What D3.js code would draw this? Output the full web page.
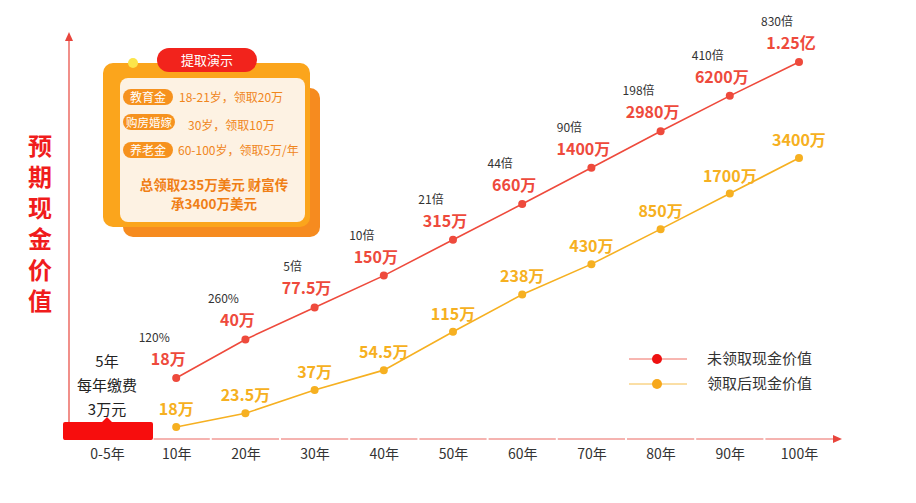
<!DOCTYPE html>
<html><head><meta charset="utf-8">
<script src="https://cdn.jsdelivr.net/npm/d3@7/dist/d3.min.js"></script>
<style>
html,body{margin:0;padding:0;background:#fff;}
svg{display:block;font-family:"Noto Sans CJK SC","Noto Sans",sans-serif;}
</style></head>
<body>
<svg id="chart" width="916" height="503"></svg>
<script>
// ---- data ----
const categories = ["0-5年","10年","20年","30年","40年","50年","60年","70年","80年","90年","100年"];
const years = ["10年","20年","30年","40年","50年","60年","70年","80年","90年","100年"];
const unclaimedValues = [18, 40, 77.5, 150, 315, 660, 1400, 2980, 6200, 12500];
const unclaimedLabels = ["18万","40万","77.5万","150万","315万","660万","1400万","2980万","6200万","1.25亿"];
const multipleLabels = ["120%","260%","5倍","10倍","21倍","44倍","90倍","198倍","410倍","830倍"];
const claimedValues = [18, 23.5, 37, 54.5, 115, 238, 430, 850, 1700, 3400];
const claimedLabels = ["18万","23.5万","37万","54.5万","115万","238万","430万","850万","1700万","3400万"];
const seriesNames = ["未领取现金价值","领取后现金价值"];
const yTitle = "预期现金价值";
const payNote = ["5年","每年缴费","3万元"];
const boxTitle = "提取演示";
const boxRows = [
  {tag:"教育金", text:"18-21岁，领取20万"},
  {tag:"购房婚嫁", text:"30岁，领取10万"},
  {tag:"养老金", text:"60-100岁，领取5万/年"}
];
const boxSummary = ["总领取235万美元 财富传","承3400万美元"];

// ---- setup ----
const svg = d3.select("#chart");
const RED = "#ee4a3c", GOLD = "#f6b021", AXIS = "#e8453c";
const axisY = 439, axisX = 69;

const x = d3.scalePoint().domain(categories).range([107, 799]);
const yRed = d3.scaleLog().domain([18, 12500]).range([378, 62]);
const yGold = d3.scaleLog().domain([18, 3400]).range([427, 158]);

// ---- axes ----
svg.append("line").attr("x1", axisX).attr("x2", axisX).attr("y1", axisY + 1).attr("y2", 38)
  .attr("stroke", AXIS).attr("stroke-width", 1.2);
svg.append("path").attr("d", `M${axisX},32 L${axisX-4},41 L${axisX+4},41 Z`).attr("fill", AXIS);

const xs = categories.map(c => x(c));
const bounds = [63];
for (let i = 0; i < xs.length - 1; i++) bounds.push((xs[i] + xs[i+1]) / 2 + (i === 0 ? 11 : 0));
bounds.push(834);
for (let i = 0; i < bounds.length - 1; i++) {
  svg.append("line").attr("x1", bounds[i] + 1).attr("x2", bounds[i+1] - 1)
    .attr("y1", axisY).attr("y2", axisY).attr("stroke", AXIS).attr("stroke-width", 1.2).attr("opacity", 0.8);
}
svg.append("path").attr("d", `M842,${axisY} L833,${axisY-4} L833,${axisY+4} Z`).attr("fill", AXIS);

const xAxis = svg.append("g").attr("transform", `translate(0,${axisY})`)
  .call(d3.axisBottom(x).tickSize(0).tickPadding(10));
xAxis.select(".domain").remove();
xAxis.selectAll("text").attr("font-size", 14).attr("fill", "#333")
  .attr("font-family", "\"Noto Sans CJK SC\",sans-serif");

// y title (vertical, single text)
svg.append("text")
  .attr("x", 40).attr("y", 134)
  .style("writing-mode", "vertical-rl")
  .attr("letter-spacing", 7)
  .attr("font-size", 24).attr("font-weight", "bold")
  .attr("fill", "#f01c1c").text(yTitle);

// 0-5年 red marker box with notch
const bx = x("0-5年");
svg.append("path")
  .attr("d", `M${bx-44},${axisY-15} Q${bx-44},${axisY-17} ${bx-42},${axisY-17} L${bx-5},${axisY-17} L${bx},${axisY-22} L${bx+5},${axisY-17} L${bx+44},${axisY-17} Q${bx+46},${axisY-17} ${bx+46},${axisY-15} L${bx+46},${axisY-1} Q${bx+46},${axisY+1} ${bx+44},${axisY+1} L${bx-42},${axisY+1} Q${bx-44},${axisY+1} ${bx-44},${axisY-1} Z`)
  .attr("fill", "#f70d0d");
svg.append("g").selectAll("text").data(payNote).join("text")
  .attr("x", bx).attr("y", (d, i) => 367 + i * 24)
  .attr("text-anchor", "middle").attr("font-size", 15).attr("fill", "#222").text(d => d);

// ---- series ----
const redData = years.map((c, i) => ({c, v: unclaimedValues[i], label: unclaimedLabels[i], mult: multipleLabels[i]}));
const goldData = years.map((c, i) => ({c, v: claimedValues[i], label: claimedLabels[i]}));

const lineRed = d3.line().x(d => x(d.c)).y(d => yRed(d.v));
const lineGold = d3.line().x(d => x(d.c)).y(d => yGold(d.v));

svg.append("path").datum(goldData).attr("d", lineGold).attr("fill", "none")
  .attr("stroke", GOLD).attr("stroke-width", 1.6);
svg.append("path").datum(redData).attr("d", lineRed).attr("fill", "none")
  .attr("stroke", RED).attr("stroke-width", 1.6);

svg.append("g").selectAll("circle").data(goldData).join("circle")
  .attr("cx", d => x(d.c)).attr("cy", d => yGold(d.v)).attr("r", 4).attr("fill", GOLD);
svg.append("g").selectAll("circle").data(redData).join("circle")
  .attr("cx", d => x(d.c)).attr("cy", d => yRed(d.v)).attr("r", 4).attr("fill", RED);

svg.append("g").selectAll("text").data(redData).join("text")
  .attr("x", d => x(d.c) - 8).attr("y", d => yRed(d.v) - 13)
  .attr("text-anchor", "middle").attr("font-size", 16).attr("font-weight", "bold")
  .attr("fill", RED).text(d => d.label);
svg.append("g").selectAll("text").data(redData).join("text")
  .attr("x", d => x(d.c) - 22).attr("y", d => yRed(d.v) - 36)
  .attr("text-anchor", "middle").attr("font-size", 12)
  .attr("fill", "#333").text(d => d.mult);
svg.append("g").selectAll("text").data(goldData).join("text")
  .attr("x", d => x(d.c)).attr("y", d => yGold(d.v) - 12)
  .attr("text-anchor", "middle").attr("font-size", 16).attr("font-weight", "bold")
  .attr("fill", GOLD).text(d => d.label);

// ---- legend ----
const legend = svg.append("g");
[[RED, "#ee1111"], [GOLD, "#f7a81b"]].forEach((cols, i) => {
  const ly = 359 + i * 25;
  legend.append("line").attr("x1", 629).attr("x2", 687).attr("y1", ly).attr("y2", ly)
    .attr("stroke", cols[0]).attr("stroke-width", 1).attr("opacity", 0.8);
  legend.append("circle").attr("cx", 657).attr("cy", ly).attr("r", 5).attr("fill", cols[1]);
  legend.append("text").attr("x", 707).attr("y", ly + 5).attr("font-size", 15)
    .attr("fill", "#333").text(seriesNames[i]);
});

// ---- info box ----
const box = svg.append("g");
box.append("rect").attr("x", 123).attr("y", 88).attr("width", 197).attr("height", 149).attr("rx", 10)
  .attr("fill", "#f68b1f");
box.append("rect").attr("x", 103).attr("y", 63).attr("width", 207).attr("height", 164).attr("rx", 10)
  .attr("fill", "#fba51c");
box.append("rect").attr("x", 120).attr("y", 78).attr("width", 185).attr("height", 144).attr("rx", 8)
  .attr("fill", "#fdf2e3");
box.append("circle").attr("cx", 133).attr("cy", 63).attr("r", 5).attr("fill", "#fce54a");
box.append("rect").attr("x", 157).attr("y", 48).attr("width", 100).attr("height", 24).attr("rx", 12)
  .attr("fill", "#f2231c");
box.append("text").attr("x", 207).attr("y", 65).attr("text-anchor", "middle")
  .attr("font-size", 13).attr("fill", "#fff").text(boxTitle);

const rowY = [97, 122, 150];
const rowTextX = [179, 188, 178];
boxRows.forEach((r, i) => {
  const w = r.tag.length === 4 ? 52 : 50;
  box.append("rect").attr("x", 123).attr("y", rowY[i] - 8).attr("width", w).attr("height", 16).attr("rx", 8)
    .attr("fill", "#f6921e");
  box.append("text").attr("x", 123 + w / 2).attr("y", rowY[i] + 4.5).attr("text-anchor", "middle")
    .attr("font-size", r.tag.length === 4 ? 11.5 : 12).attr("fill", "#fff").text(r.tag);
  box.append("text").attr("x", rowTextX[i]).attr("y", rowY[i] + 4.5 + (i === 1 ? 3 : 0))
    .attr("font-size", 12).attr("fill", "#f0861c").text(r.text);
});
box.selectAll("text.sum").data(boxSummary).join("text").attr("class", "sum")
  .attr("text-anchor", "middle").attr("x", 214).attr("y", (d, i) => 190 + i * 19)
  .attr("font-size", 13.5).attr("font-weight", "bold").attr("fill", "#f07f16").text(d => d);
</script>
</body></html>
